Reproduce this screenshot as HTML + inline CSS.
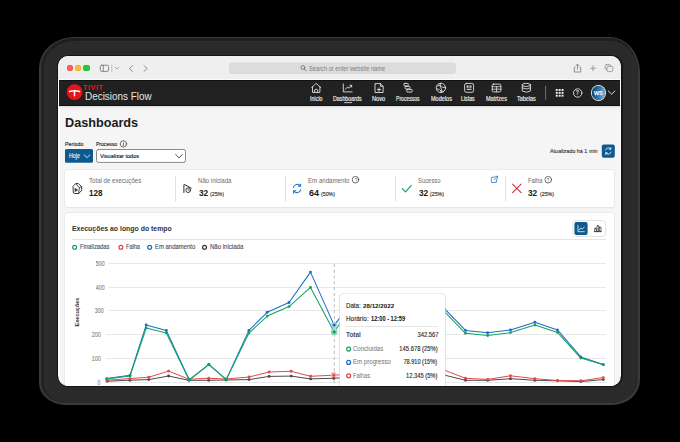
<!DOCTYPE html>
<html><head><meta charset="utf-8"><style>
html,body{margin:0;padding:0;width:680px;height:442px;overflow:hidden;background:#000;}
.a{position:absolute;}
.t{position:absolute;white-space:nowrap;font-family:"Liberation Sans", sans-serif;}
</style></head><body>
<div class="a" style="left:38.6px;top:36.8px;width:601.70px;height:368.20px;background:#3a3a3a;border-radius:36px 30px 28px 27px / 31px 36px 25px 22px;"></div>
<div class="a" style="left:40.5px;top:38.1px;width:597.70px;height:365.30px;background:#2a2a2a;border-radius:34px 28px 26px 25px / 29.5px 34px 23.5px 20.5px;"></div>
<div class="a" style="left:40.5px;top:38.1px;width:597.70px;height:365.30px;border-radius:34px 28px 26px 25px / 29.5px 34px 23.5px 20.5px;border-left:3px solid #222;border-top:3.3px solid #1f1f1f;box-sizing:border-box;"></div>
<div class="a" style="left:45.6px;top:42px;width:587.70px;height:356.60px;border-radius:29px 23px 21px 20px / 25px 29px 19px 16px;box-shadow:0 0 0 0.6px #2f2f2f;"></div>
<div class="a" style="left:49.6px;top:46px;width:579.70px;height:348.60px;border-radius:25px 19px 17px 16px / 21px 25px 15px 12px;box-shadow:0 0 0 0.6px #2e2e2e;"></div>
<div class="a" style="left:56.8px;top:54.8px;width:566.10px;height:332.20px;background:#151515;border-radius:12px;"></div>
<div class="a" style="left:58.4px;top:55.9px;width:562.6px;height:330.1px;border-radius:10.5px;overflow:hidden;background:#fdfdfd;"><div class="a" style="left:-58.4px;top:-55.9px;width:680px;height:442px;">
<div class="a" style="left:0px;top:0px;width:680.00px;height:78.50px;background:#efefef;"></div>
<div class="a" style="left:0px;top:78.5px;width:680.00px;height:1.50px;background:#fbfbfb;"></div>
<div class="a" style="left:66.9px;top:65.2px;width:6.20px;height:6.20px;background:#fe5f57;border-radius:50%;box-shadow:inset 0 0 0 0.4px #e2463f;"></div>
<div class="a" style="left:75.10000000000001px;top:65.2px;width:6.20px;height:6.20px;background:#febc2e;border-radius:50%;box-shadow:inset 0 0 0 0.4px #e1a116;"></div>
<div class="a" style="left:83.4px;top:65.2px;width:6.20px;height:6.20px;background:#28c840;border-radius:50%;box-shadow:inset 0 0 0 0.4px #14ae2a;"></div>
<svg class="a" style="left:0;top:0" width="680" height="80" viewBox="0 0 680 80" fill="none" stroke-linecap="round" stroke-linejoin="round">
<rect x="100.3" y="65.2" width="8.2" height="6.2" rx="1.3" stroke="#6f6f6f" stroke-width="0.8"/>
<line x1="103.3" y1="65.4" x2="103.3" y2="71.2" stroke="#6f6f6f" stroke-width="0.8"/>
<line x1="111.8" y1="65" x2="111.8" y2="72" stroke="#b0b0b0" stroke-width="0.8"/>
<path d="M115.3 67.4 L117 69 L118.7 67.4" stroke="#8a8a8a" stroke-width="0.7"/>
<path d="M132.6 65.6 L129.4 68.5 L132.6 71.4" stroke="#8a8a8a" stroke-width="0.9"/>
<path d="M144 65.6 L147.2 68.5 L144 71.4" stroke="#8a8a8a" stroke-width="0.9"/>
<rect x="229" y="62.6" width="227" height="11.4" rx="3" fill="#dcdcdc" stroke="none"/>
<circle cx="302.9" cy="67.6" r="1.9" stroke="#6a6a6a" stroke-width="0.8"/>
<line x1="304.3" y1="69" x2="306" y2="70.8" stroke="#6a6a6a" stroke-width="0.9"/>
<path d="M575 67.3 L574.3 67.3 L574.3 72 L580.7 72 L580.7 67.3 L580 67.3" stroke="#7a7a7a" stroke-width="0.8"/>
<line x1="577.5" y1="64.3" x2="577.5" y2="69.5" stroke="#7a7a7a" stroke-width="0.8"/>
<path d="M575.9 65.8 L577.5 64.2 L579.1 65.8" stroke="#7a7a7a" stroke-width="0.8"/>
<line x1="593" y1="65.8" x2="593" y2="70.8" stroke="#8a8a8a" stroke-width="0.8"/>
<line x1="590.5" y1="68.3" x2="595.5" y2="68.3" stroke="#8a8a8a" stroke-width="0.8"/>
<rect x="605.2" y="64.6" width="5.6" height="5" rx="1.2" stroke="#8a8a8a" stroke-width="0.75"/>
<rect x="607" y="66.4" width="5.8" height="5.2" rx="1.2" fill="#efefef" stroke="#8a8a8a" stroke-width="0.75"/>
</svg>
<div class="t" style="top:66.12px;font-size:6.8px;line-height:6.8px;font-weight:400;color:#7e7e7e;left:309.00px;transform:scaleX(0.8406);transform-origin:0 0;">Search or enter website name</div>
<div class="a" style="left:59.2px;top:80px;width:561.20px;height:26.00px;background:#212121;"></div>
<div class="a" style="left:59.2px;top:80px;width:561.20px;height:1.00px;background:#121212;"></div>
<div class="a" style="left:59.2px;top:104.8px;width:561.20px;height:1.20px;background:#0f0f0f;"></div>
<svg class="a" style="left:0;top:80px" width="680" height="26" viewBox="0 80 680 26" fill="none" stroke-linecap="round" stroke-linejoin="round">
<circle cx="74.55" cy="92.2" r="7.9" fill="#e8121d"/>
<path d="M69.6 91.5 Q74.5 90 79.5 91.5" stroke="#fff" stroke-width="1.6"/>
<line x1="74.5" y1="91" x2="74.5" y2="95.8" stroke="#fff" stroke-width="1.4"/>
</svg>
<div class="t" style="top:84.25px;font-size:7.7px;line-height:7.7px;font-weight:700;color:#e8141f;letter-spacing:0.6px;left:83.40px;transform:scaleX(0.9398);transform-origin:0 0;">TIVIT</div>
<div class="t" style="top:91.11px;font-size:11.4px;line-height:11.4px;font-weight:400;color:#e4e4e4;left:84.60px;transform:scaleX(0.8712);transform-origin:0 0;">Decisions Flow</div>
<svg class="a" style="left:0;top:80px" width="680" height="26" viewBox="0 80 680 26" fill="none" stroke="#ececec" stroke-width="0.85" stroke-linecap="round" stroke-linejoin="round">
<path d="M311.6 87.6 L316.2 83.4 L320.8 87.6 M312.5 86.9 L312.5 92.4 L319.9 92.4 L319.9 86.9"/>
<path d="M314.7 92.3 L314.7 89.9 Q316.2 88.3 317.7 89.9 L317.7 92.3"/>
<path d="M343.3 84 L343.3 91.9 L352.1 91.9"/>
<path d="M345.2 89.4 L347.6 86.9 L349.1 88.2 L351.5 85.6 M349.9 85.3 L351.7 85.3 L351.7 87.1"/>
<path d="M375.4 83.6 L380.4 83.6 L383.1 86.3 L383.1 92.5 L375.4 92.5 Z M380.4 83.6 L380.4 86.3 L383.1 86.3"/>
<path d="M377.3 89.6 L380.7 89.6 M379 87.9 L379 91.3"/>
<rect x="403.9" y="83.4" width="4.4" height="2.6" rx="0.9"/>
<rect x="405" y="86.4" width="5" height="2.6" rx="0.9"/>
<rect x="406.8" y="89.4" width="5.4" height="2.7" rx="0.9"/>
<circle cx="440.9" cy="87.9" r="4.7"/>
<path d="M437.8 85.8 Q440.2 84.4 441.6 86.4 Q442.6 88.2 444.6 87.4 M437 89 Q439.4 88.6 440 90.4 Q440.8 92 443.4 91.3 M440.4 83.5 Q439.3 85.5 440.9 87.9 Q442.2 89.8 441 92.2"/>
<rect x="464.6" y="83.4" width="9" height="8.9" rx="1.8"/>
<rect x="466.6" y="85.3" width="2" height="2.6" fill="#bdbdbd" stroke="none"/><rect x="469.5" y="85.3" width="2" height="2.6" fill="#bdbdbd" stroke="none"/><rect x="466.6" y="88.7" width="4.9" height="1.3" fill="#bdbdbd" stroke="none"/>
<rect x="492.2" y="84.1" width="8.7" height="7.8" rx="1.3"/>
<path d="M492.2 86.7 L500.9 86.7 M496.55 86.7 L496.55 91.9 M492.2 89.2 L500.9 89.2" stroke-width="0.75"/>
<ellipse cx="526.35" cy="84.9" rx="4.1" ry="1.6"/>
<path d="M522.25 84.9 L522.25 91 Q526.35 93.4 530.45 91 L530.45 84.9 M522.25 87.9 Q526.35 90.3 530.45 87.9"/>
<line x1="545.6" y1="86.2" x2="545.6" y2="99.4" stroke="#7a7a7a" stroke-width="0.9"/>
<path d="M608.3 91 L611.6 94.2 L614.9 91" stroke-width="0.9"/>
<circle cx="577.7" cy="93" r="4.2" stroke-width="0.85"/>
<rect x="344.2" y="102.2" width="7.8" height="0.9" fill="#d8d8d8" stroke="none"/>
</svg>
<div class="t" style="top:96.12px;font-size:6.8px;line-height:6.8px;font-weight:400;color:#ececec;left:309.80px;transform:scaleX(0.7713);transform-origin:0 0;-webkit-text-stroke:0.18px #ececec;">Início</div>
<div class="t" style="top:96.12px;font-size:6.8px;line-height:6.8px;font-weight:400;color:#ececec;left:333.00px;transform:scaleX(0.7785);transform-origin:0 0;-webkit-text-stroke:0.18px #ececec;">Dashboards</div>
<div class="t" style="top:96.12px;font-size:6.8px;line-height:6.8px;font-weight:400;color:#ececec;left:372.20px;transform:scaleX(0.8330);transform-origin:0 0;-webkit-text-stroke:0.18px #ececec;">Novo</div>
<div class="t" style="top:96.12px;font-size:6.8px;line-height:6.8px;font-weight:400;color:#ececec;left:395.60px;transform:scaleX(0.7454);transform-origin:0 0;-webkit-text-stroke:0.18px #ececec;">Processos</div>
<div class="t" style="top:96.12px;font-size:6.8px;line-height:6.8px;font-weight:400;color:#ececec;left:430.60px;transform:scaleX(0.8139);transform-origin:0 0;-webkit-text-stroke:0.18px #ececec;">Modelos</div>
<div class="t" style="top:96.12px;font-size:6.8px;line-height:6.8px;font-weight:400;color:#ececec;left:461.40px;transform:scaleX(0.7735);transform-origin:0 0;-webkit-text-stroke:0.18px #ececec;">Listas</div>
<div class="t" style="top:96.12px;font-size:6.8px;line-height:6.8px;font-weight:400;color:#ececec;left:485.80px;transform:scaleX(0.8142);transform-origin:0 0;-webkit-text-stroke:0.18px #ececec;">Matrizes</div>
<div class="t" style="top:96.12px;font-size:6.8px;line-height:6.8px;font-weight:400;color:#ececec;left:517.20px;transform:scaleX(0.7990);transform-origin:0 0;-webkit-text-stroke:0.18px #ececec;">Tabelas</div>
<svg class="a" style="left:0;top:0" width="680" height="110" viewBox="0 0 680 110"><rect x="555.80" y="89.00" width="1.9" height="1.9" fill="#f4f4f4"/><rect x="555.80" y="91.90" width="1.9" height="1.9" fill="#f4f4f4"/><rect x="555.80" y="94.80" width="1.9" height="1.9" fill="#f4f4f4"/><rect x="558.70" y="89.00" width="1.9" height="1.9" fill="#f4f4f4"/><rect x="558.70" y="91.90" width="1.9" height="1.9" fill="#f4f4f4"/><rect x="558.70" y="94.80" width="1.9" height="1.9" fill="#f4f4f4"/><rect x="561.60" y="89.00" width="1.9" height="1.9" fill="#f4f4f4"/><rect x="561.60" y="91.90" width="1.9" height="1.9" fill="#f4f4f4"/><rect x="561.60" y="94.80" width="1.9" height="1.9" fill="#f4f4f4"/></svg>
<div class="t" style="top:89.86px;font-size:6.4px;line-height:6.4px;font-weight:400;color:#f4f4f4;left:575.70px;transform:scaleX(0.7500);transform-origin:0 0;-webkit-text-stroke:0.2px #f4f4f4;">?</div>
<div class="a" style="left:591.6px;top:86.3px;width:13.40px;height:13.40px;border-radius:50%;background:linear-gradient(100deg, #0a3a6a 0%, #1b5f9a 30%, #3f86bd 65%, #8fc3e3 100%);box-shadow:0 0 0 0.9px #eeeeee;"></div>
<div class="t" style="top:90.13px;font-size:6.2px;line-height:6.2px;font-weight:400;color:#ffffff;left:593.90px;transform:scaleX(0.8740);transform-origin:0 0;-webkit-text-stroke:0.25px #fff;">WS</div>
<div class="a" style="left:60.2px;top:106px;width:559.40px;height:336.00px;background:#f5f5f5;"></div>
<div class="a" style="left:59.2px;top:106px;width:561.20px;height:3.00px;background:linear-gradient(#dedede,#f5f5f5);"></div>
<div class="t" style="top:115.64px;font-size:13.6px;line-height:13.6px;font-weight:700;color:#1b1b1b;left:64.60px;transform:scaleX(0.9307);transform-origin:0 0;">Dashboards</div>
<div class="t" style="top:141.23px;font-size:6.2px;line-height:6.2px;font-weight:400;color:#262626;left:64.80px;transform:scaleX(0.8457);transform-origin:0 0;-webkit-text-stroke:0.15px #262626;">Período</div>
<div class="t" style="top:141.23px;font-size:6.2px;line-height:6.2px;font-weight:400;color:#262626;left:96.00px;transform:scaleX(0.8159);transform-origin:0 0;-webkit-text-stroke:0.15px #262626;">Processo</div>
<svg class="a" style="left:0;top:0" width="680" height="170" viewBox="0 0 680 170" fill="none" stroke-linecap="round" stroke-linejoin="round">
<circle cx="123.4" cy="143.9" r="3.2" stroke="#333" stroke-width="0.7"/>
<line x1="123.4" y1="143.3" x2="123.4" y2="145.6" stroke="#333" stroke-width="0.7"/>
<circle cx="123.4" cy="142.2" r="0.4" fill="#333"/>
<rect x="65" y="149" width="28" height="13.8" rx="1.6" fill="#0e5a8e"/>
<path d="M84.2 154.9 L87 157.6 L89.8 154.9" stroke="#fff" stroke-width="0.8"/>
<rect x="96.5" y="149.5" width="89" height="12.9" rx="2" fill="#fff" stroke="#767676" stroke-width="0.85"/>
<path d="M175.6 154.5 L179 157.8 L182.4 154.5" stroke="#333" stroke-width="0.85"/>
<rect x="601.8" y="144.4" width="13" height="13.3" rx="2" fill="#0e5a8e"/>
<path d="M605.6 150 A2.9 2.9 0 0 1 610.8 149.1 M611 152.1 A2.9 2.9 0 0 1 605.8 153" stroke="#fff" stroke-width="0.8"/>
<path d="M610.9 147.6 L610.9 149.3 L609.3 149.3 M605.7 154.5 L605.7 152.8 L607.3 152.8" stroke="#fff" stroke-width="0.8"/>
</svg>
<div class="t" style="top:152.97px;font-size:6.5px;line-height:6.5px;font-weight:400;color:#ffffff;left:69.20px;transform:scaleX(0.8144);transform-origin:0 0;-webkit-text-stroke:0.1px #fff;">Hoje</div>
<div class="t" style="top:152.72px;font-size:6.1px;line-height:6.1px;font-weight:400;color:#1a1a1a;left:100.20px;transform:scaleX(0.9100);transform-origin:0 0;-webkit-text-stroke:0.15px #1a1a1a;">Visualizar todos</div>
<div class="t" style="top:148.67px;font-size:5.8px;line-height:5.8px;font-weight:400;color:#333;left:550.40px;transform:scaleX(0.9351);transform-origin:0 0;-webkit-text-stroke:0.12px #333;">Atualizado há 1 min</div>
<div class="a" style="left:65.3px;top:169.6px;width:548.70px;height:37.60px;background:#fff;border-radius:2.5px;box-shadow:0 0 0 0.6px #e4e4e4, 0 0.5px 1.5px rgba(0,0,0,0.06);"></div>
<div class="a" style="left:175.29999999999998px;top:175.5px;width:0.70px;height:26.50px;background:#e2e2e2;"></div>
<div class="a" style="left:285.3px;top:175.5px;width:0.70px;height:26.50px;background:#e2e2e2;"></div>
<div class="a" style="left:395.3px;top:175.5px;width:0.70px;height:26.50px;background:#e2e2e2;"></div>
<div class="a" style="left:505.0px;top:175.5px;width:0.70px;height:26.50px;background:#e2e2e2;"></div>
<svg class="a" style="left:0;top:160px" width="680" height="50" viewBox="0 160 680 50" fill="none" stroke-linecap="round" stroke-linejoin="round">
<path d="M73.3 186.1 L75.8 183.6 L78.4 183.6 L81.7 186.7 L81.7 190.4 L78.7 193.5 L74.4 193.5 Q73.3 193.5 73.3 192.4 Z" stroke="#222" stroke-width="0.9"/>
<path d="M75.8 183.6 L79.3 187.7 L81.7 186.7 M79.3 187.7 L78.7 193.5" stroke="#222" stroke-width="0.8"/>
<path d="M75.1 188.2 L77.7 189.9 L75.1 191.6 Z" fill="#222" stroke="#222" stroke-width="0.4"/>
<path d="M183.9 192.5 L183.9 185 Q183.9 184.2 184.7 184.6 L191.3 188.2" stroke="#222" stroke-width="0.95"/>
<circle cx="188.2" cy="190.2" r="2.35" stroke="#222" stroke-width="0.9"/>
<path d="M188.2 189.1 L188.2 190.3 L189.2 190.3" stroke="#222" stroke-width="0.6"/>
<path d="M293.4 187.4 A4 4 0 0 1 300.3 185.8 M300.8 189.6 A4 4 0 0 1 293.9 191.2" stroke="#1e74c9" stroke-width="1.05"/>
<path d="M300.6 183.9 L300.6 186.2 L298.3 186.2 M293.6 193.1 L293.6 190.8 L295.9 190.8" stroke="#1e74c9" stroke-width="1.05"/>
<path d="M402.3 188.6 L405.5 191.8 L411.3 185.4" stroke="#189a5c" stroke-width="1.1"/>
<path d="M512.6 184.1 L521.1 192.6 M521.1 184.1 L512.6 192.6" stroke="#d9272e" stroke-width="1.05"/>
<path d="M494.6 177.2 L491.9 177.2 Q491.3 177.2 491.3 177.8 L491.3 181.9 Q491.3 182.5 491.9 182.5 L496 182.5 Q496.6 182.5 496.6 181.9 L496.6 179.3" stroke="#2a7fd4" stroke-width="0.85"/>
<path d="M494.1 179.7 L497.5 176.3 M495.4 176.3 L497.5 176.3 L497.5 178.4" stroke="#2a7fd4" stroke-width="0.85"/>
<circle cx="355.5" cy="179.7" r="3.3" stroke="#333" stroke-width="0.7"/>
<circle cx="548.3" cy="179.7" r="3.3" stroke="#333" stroke-width="0.7"/>
</svg>
<div class="t" style="top:178.35px;font-size:5.0px;line-height:5.0px;font-weight:400;color:#333;left:354.80px;transform:scaleX(0.8000);transform-origin:0 0;">?</div>
<div class="t" style="top:178.35px;font-size:5.0px;line-height:5.0px;font-weight:400;color:#333;left:547.00px;transform:scaleX(0.8000);transform-origin:0 0;">?</div>
<div class="t" style="top:177.35px;font-size:7.0px;line-height:7.0px;font-weight:400;color:#6b6b6b;left:89.40px;transform:scaleX(0.8721);transform-origin:0 0;">Total de execuções</div>
<div class="t" style="top:188.50px;font-size:8.7px;line-height:8.7px;font-weight:700;color:#1a1a1a;left:88.60px;transform:scaleX(0.9343);transform-origin:0 0;">128</div>
<div class="t" style="top:177.35px;font-size:7.0px;line-height:7.0px;font-weight:400;color:#6b6b6b;left:198.40px;transform:scaleX(0.8672);transform-origin:0 0;">Não iniciada</div>
<div class="t" style="top:188.50px;font-size:8.7px;line-height:8.7px;font-weight:700;color:#1a1a1a;left:198.60px;transform:scaleX(0.9561);transform-origin:0 0;">32</div>
<div class="t" style="top:192.31px;font-size:5.4px;line-height:5.4px;font-weight:400;color:#262626;left:209.80px;transform:scaleX(0.9668);transform-origin:0 0;-webkit-text-stroke:0.12px #262626;">(25%)</div>
<div class="t" style="top:177.35px;font-size:7.0px;line-height:7.0px;font-weight:400;color:#6b6b6b;left:308.40px;transform:scaleX(0.8743);transform-origin:0 0;">Em andamento</div>
<div class="t" style="top:188.50px;font-size:8.7px;line-height:8.7px;font-weight:700;color:#1a1a1a;left:308.60px;transform:scaleX(1.0375);transform-origin:0 0;">64</div>
<div class="t" style="top:192.31px;font-size:5.4px;line-height:5.4px;font-weight:400;color:#262626;left:321.00px;transform:scaleX(0.9668);transform-origin:0 0;-webkit-text-stroke:0.12px #262626;">(50%)</div>
<div class="t" style="top:177.35px;font-size:7.0px;line-height:7.0px;font-weight:400;color:#6b6b6b;left:418.40px;transform:scaleX(0.8384);transform-origin:0 0;">Sucesso</div>
<div class="t" style="top:188.50px;font-size:8.7px;line-height:8.7px;font-weight:700;color:#1a1a1a;left:418.60px;transform:scaleX(0.9561);transform-origin:0 0;">32</div>
<div class="t" style="top:192.31px;font-size:5.4px;line-height:5.4px;font-weight:400;color:#262626;left:429.80px;transform:scaleX(0.9668);transform-origin:0 0;-webkit-text-stroke:0.12px #262626;">(25%)</div>
<div class="t" style="top:177.35px;font-size:7.0px;line-height:7.0px;font-weight:400;color:#6b6b6b;left:528.20px;transform:scaleX(0.8344);transform-origin:0 0;">Falha</div>
<div class="t" style="top:188.50px;font-size:8.7px;line-height:8.7px;font-weight:700;color:#1a1a1a;left:528.40px;transform:scaleX(0.9561);transform-origin:0 0;">32</div>
<div class="t" style="top:192.31px;font-size:5.4px;line-height:5.4px;font-weight:400;color:#262626;left:540.20px;transform:scaleX(0.9668);transform-origin:0 0;-webkit-text-stroke:0.12px #262626;">(25%)</div>
<div class="a" style="left:65.3px;top:213.3px;width:548.70px;height:246.70px;background:#fff;border-radius:2.5px;box-shadow:0 0 0 0.6px #e4e4e4, 0 0.5px 1.5px rgba(0,0,0,0.06);"></div>
<div class="t" style="top:225.46px;font-size:7.7px;line-height:7.7px;font-weight:700;color:#333;left:71.60px;transform:scaleX(0.8980);transform-origin:0 0;">Execuções ao longo do tempo</div>
<div class="a" style="left:72px;top:239.1px;width:533.70px;height:0.70px;background:#e3e3e3;"></div>
<svg class="a" style="left:0;top:215px" width="680" height="30" viewBox="0 215 680 30" fill="none" stroke-linecap="round" stroke-linejoin="round">
<rect x="572.8" y="220.6" width="32.8" height="15.9" rx="2.6" fill="#fff" stroke="#d9d9d9" stroke-width="0.7"/>
<rect x="574.4" y="221.9" width="13.2" height="13" rx="2" fill="#0e5a8e"/>
<path d="M578 225.3 L578 231.7 L584.4 231.7" stroke="#fff" stroke-width="0.75"/>
<path d="M579.2 230 L580.9 227.9 L582.3 229.2 L584.2 227" stroke="#fff" stroke-width="0.75"/>
<path d="M594.3 231.6 L601.4 231.6" stroke="#222" stroke-width="0.7"/>
<rect x="594.7" y="228.3" width="1.7" height="3.3" rx="0.5" stroke="#222" stroke-width="0.7"/>
<rect x="597" y="225.6" width="1.7" height="6" rx="0.5" stroke="#222" stroke-width="0.7"/>
<rect x="599.3" y="227.2" width="1.7" height="4.4" rx="0.5" stroke="#222" stroke-width="0.7"/>
</svg>
<svg class="a" style="left:0;top:240px" width="680" height="15" viewBox="0 240 680 15"><circle cx="74.65" cy="247.3" r="1.95" stroke="#14a05e" stroke-width="1.2" fill="none"/><circle cx="120.9" cy="247.3" r="1.95" stroke="#e0393e" stroke-width="1.2" fill="none"/><circle cx="149.7" cy="247.3" r="1.95" stroke="#1c64c4" stroke-width="1.2" fill="none"/><circle cx="204.5" cy="247.3" r="1.95" stroke="#333" stroke-width="1.2" fill="none"/></svg>
<div class="t" style="top:243.88px;font-size:6.5px;line-height:6.5px;font-weight:400;color:#435069;left:79.60px;transform:scaleX(0.8981);transform-origin:0 0;-webkit-text-stroke:0.12px #435069;">Finalizadas</div>
<div class="t" style="top:243.88px;font-size:6.5px;line-height:6.5px;font-weight:400;color:#435069;left:126.20px;transform:scaleX(0.8591);transform-origin:0 0;-webkit-text-stroke:0.12px #435069;">Falha</div>
<div class="t" style="top:243.88px;font-size:6.5px;line-height:6.5px;font-weight:400;color:#435069;left:154.80px;transform:scaleX(0.9131);transform-origin:0 0;-webkit-text-stroke:0.12px #435069;">Em andamento</div>
<div class="t" style="top:243.88px;font-size:6.5px;line-height:6.5px;font-weight:400;color:#435069;left:209.60px;transform:scaleX(0.9293);transform-origin:0 0;-webkit-text-stroke:0.12px #435069;">Não iniciada</div>
<div class="a" style="left:109.2px;top:263.1px;width:496.50px;height:0.80px;background:#e8e8e8;"></div>
<div class="t" style="top:261.36px;font-size:6.4px;line-height:6.4px;font-weight:400;color:#666;right:575.17px;transform:scaleX(0.8282);transform-origin:100% 0;">500</div>
<div class="a" style="left:109.2px;top:287.0px;width:496.50px;height:0.80px;background:#e8e8e8;"></div>
<div class="t" style="top:285.26px;font-size:6.4px;line-height:6.4px;font-weight:400;color:#666;right:575.17px;transform:scaleX(0.8282);transform-origin:100% 0;">400</div>
<div class="a" style="left:108.9px;top:310.40000000000003px;width:496.80px;height:0.80px;background:#e8e8e8;"></div>
<div class="t" style="top:307.66px;font-size:6.4px;line-height:6.4px;font-weight:400;color:#666;right:576.17px;transform:scaleX(0.8282);transform-origin:100% 0;">300</div>
<div class="a" style="left:106px;top:334.20000000000005px;width:499.70px;height:0.80px;background:#e8e8e8;"></div>
<div class="t" style="top:332.46px;font-size:6.4px;line-height:6.4px;font-weight:400;color:#666;right:578.97px;transform:scaleX(0.8282);transform-origin:100% 0;">200</div>
<div class="a" style="left:106.1px;top:358.1px;width:499.60px;height:0.80px;background:#e8e8e8;"></div>
<div class="t" style="top:356.36px;font-size:6.4px;line-height:6.4px;font-weight:400;color:#666;right:578.97px;transform:scaleX(0.8282);transform-origin:100% 0;">100</div>
<div class="a" style="left:106px;top:382.1px;width:499.70px;height:0.80px;background:#e8e8e8;"></div>
<div class="t" style="top:380.36px;font-size:6.4px;line-height:6.4px;font-weight:400;color:#666;right:578.97px;transform:scaleX(0.8250);transform-origin:100% 0;">0</div>
<div class="a" style="left:46.8px;font-family:&quot;Liberation Sans&quot;,sans-serif;white-space:nowrap;top:308.6px;width:60px;height:6px;line-height:6px;font-size:5.5px;font-weight:700;color:#333;text-align:center;transform:rotate(-90deg);transform-origin:30px 3px;">Execuções</div>
<svg class="a" style="left:0;top:250px" width="680" height="140" viewBox="0 250 680 140"><line x1="334.3" y1="263.8" x2="334.3" y2="386" stroke="#a9a9a9" stroke-width="0.8" stroke-dasharray="3.2 2.6"/><polyline points="107.2,381.2 129.9,380.2 148.8,379.6 168.6,376 188.9,380.3 208.7,380.3 226,380 249.1,379.6 269.1,376.4 291.2,376.1 310.6,378.9 333.8,378.2 356,377 378,376 400,376 422,375.5 444,375 465.5,380.3 487.7,380.3 510.5,378.7 534.9,380.3 557.5,380.8 580.8,381.6 603.3,379.6" fill="none" stroke="#4a4a4a" stroke-width="1.0" stroke-linejoin="round"/><circle cx="107.2" cy="381.2" r="1.45" fill="#4a4a4a"/><circle cx="129.9" cy="380.2" r="1.45" fill="#4a4a4a"/><circle cx="148.8" cy="379.6" r="1.45" fill="#4a4a4a"/><circle cx="168.6" cy="376" r="1.45" fill="#4a4a4a"/><circle cx="188.9" cy="380.3" r="1.45" fill="#4a4a4a"/><circle cx="208.7" cy="380.3" r="1.45" fill="#4a4a4a"/><circle cx="226" cy="380" r="1.45" fill="#4a4a4a"/><circle cx="249.1" cy="379.6" r="1.45" fill="#4a4a4a"/><circle cx="269.1" cy="376.4" r="1.45" fill="#4a4a4a"/><circle cx="291.2" cy="376.1" r="1.45" fill="#4a4a4a"/><circle cx="310.6" cy="378.9" r="1.45" fill="#4a4a4a"/><circle cx="333.8" cy="378.2" r="1.45" fill="#4a4a4a"/><circle cx="356" cy="377" r="1.45" fill="#4a4a4a"/><circle cx="378" cy="376" r="1.45" fill="#4a4a4a"/><circle cx="400" cy="376" r="1.45" fill="#4a4a4a"/><circle cx="422" cy="375.5" r="1.45" fill="#4a4a4a"/><circle cx="444" cy="375" r="1.45" fill="#4a4a4a"/><circle cx="465.5" cy="380.3" r="1.45" fill="#4a4a4a"/><circle cx="487.7" cy="380.3" r="1.45" fill="#4a4a4a"/><circle cx="510.5" cy="378.7" r="1.45" fill="#4a4a4a"/><circle cx="534.9" cy="380.3" r="1.45" fill="#4a4a4a"/><circle cx="557.5" cy="380.8" r="1.45" fill="#4a4a4a"/><circle cx="580.8" cy="381.6" r="1.45" fill="#4a4a4a"/><circle cx="603.3" cy="379.6" r="1.45" fill="#4a4a4a"/><polyline points="107.2,380.2 129.9,378.6 148.8,377.2 168.6,371.1 188.9,379.2 208.7,378.3 226,379 249.1,377 269.1,372 291.2,371.3 310.6,376.3 333.8,375.2 356,374 378,373 400,372 422,371 444,370 465.5,378.3 487.7,379.4 510.5,375.8 534.9,378.7 557.5,380.5 580.8,380.8 603.3,377.6" fill="none" stroke="#e3484c" stroke-width="1.0" stroke-linejoin="round"/><circle cx="107.2" cy="380.2" r="1.45" fill="#e3484c"/><circle cx="129.9" cy="378.6" r="1.45" fill="#e3484c"/><circle cx="148.8" cy="377.2" r="1.45" fill="#e3484c"/><circle cx="168.6" cy="371.1" r="1.45" fill="#e3484c"/><circle cx="188.9" cy="379.2" r="1.45" fill="#e3484c"/><circle cx="208.7" cy="378.3" r="1.45" fill="#e3484c"/><circle cx="226" cy="379" r="1.45" fill="#e3484c"/><circle cx="249.1" cy="377" r="1.45" fill="#e3484c"/><circle cx="269.1" cy="372" r="1.45" fill="#e3484c"/><circle cx="291.2" cy="371.3" r="1.45" fill="#e3484c"/><circle cx="310.6" cy="376.3" r="1.45" fill="#e3484c"/><circle cx="333.8" cy="375.2" r="1.45" fill="#e3484c"/><circle cx="356" cy="374" r="1.45" fill="#e3484c"/><circle cx="378" cy="373" r="1.45" fill="#e3484c"/><circle cx="400" cy="372" r="1.45" fill="#e3484c"/><circle cx="422" cy="371" r="1.45" fill="#e3484c"/><circle cx="444" cy="370" r="1.45" fill="#e3484c"/><circle cx="465.5" cy="378.3" r="1.45" fill="#e3484c"/><circle cx="487.7" cy="379.4" r="1.45" fill="#e3484c"/><circle cx="510.5" cy="375.8" r="1.45" fill="#e3484c"/><circle cx="534.9" cy="378.7" r="1.45" fill="#e3484c"/><circle cx="557.5" cy="380.5" r="1.45" fill="#e3484c"/><circle cx="580.8" cy="380.8" r="1.45" fill="#e3484c"/><circle cx="603.3" cy="377.6" r="1.45" fill="#e3484c"/><polyline points="106.8,378.6 130,375.3 146.2,324.9 166.3,330.4 189.2,379.8 208.9,364.4 226.2,379.6 248.9,330.4 267.2,312.3 289,302.5 310.5,272.1 334.1,325.1 356,298 378,300 400,300 422,300 444,308.2 465.5,330.4 487.7,332.8 510.5,329.9 534.9,322.2 557.5,329.9 580.8,356.9 603.3,364.6" fill="none" stroke="#1c6cc8" stroke-width="1.05" stroke-linejoin="round"/><circle cx="106.8" cy="378.6" r="1.45" fill="#1c6cc8"/><circle cx="130" cy="375.3" r="1.45" fill="#1c6cc8"/><circle cx="146.2" cy="324.9" r="1.45" fill="#1c6cc8"/><circle cx="166.3" cy="330.4" r="1.45" fill="#1c6cc8"/><circle cx="189.2" cy="379.8" r="1.45" fill="#1c6cc8"/><circle cx="208.9" cy="364.4" r="1.45" fill="#1c6cc8"/><circle cx="226.2" cy="379.6" r="1.45" fill="#1c6cc8"/><circle cx="248.9" cy="330.4" r="1.45" fill="#1c6cc8"/><circle cx="267.2" cy="312.3" r="1.45" fill="#1c6cc8"/><circle cx="289" cy="302.5" r="1.45" fill="#1c6cc8"/><circle cx="310.5" cy="272.1" r="1.45" fill="#1c6cc8"/><circle cx="334.1" cy="325.1" r="1.45" fill="#1c6cc8"/><circle cx="356" cy="298" r="1.45" fill="#1c6cc8"/><circle cx="378" cy="300" r="1.45" fill="#1c6cc8"/><circle cx="400" cy="300" r="1.45" fill="#1c6cc8"/><circle cx="422" cy="300" r="1.45" fill="#1c6cc8"/><circle cx="444" cy="308.2" r="1.45" fill="#1c6cc8"/><circle cx="465.5" cy="330.4" r="1.45" fill="#1c6cc8"/><circle cx="487.7" cy="332.8" r="1.45" fill="#1c6cc8"/><circle cx="510.5" cy="329.9" r="1.45" fill="#1c6cc8"/><circle cx="534.9" cy="322.2" r="1.45" fill="#1c6cc8"/><circle cx="557.5" cy="329.9" r="1.45" fill="#1c6cc8"/><circle cx="580.8" cy="356.9" r="1.45" fill="#1c6cc8"/><circle cx="603.3" cy="364.6" r="1.45" fill="#1c6cc8"/><polyline points="106.8,379.1 130,376.1 146.2,328.0 166.3,333.0 189.2,380.0 208.9,364.6 226.2,379.7 248.9,333.1 267.2,316.1 289,306.6 310.5,287.4 334.1,331.8 356,301 378,303 400,303 422,303 444,311.2 465.5,333.3 487.7,335.5 510.5,332.6 534.9,325.0 557.5,332.4 580.8,358.1 603.3,364.7" fill="none" stroke="#12a363" stroke-width="1.05" stroke-linejoin="round"/><circle cx="106.8" cy="379.1" r="1.45" fill="#12a363"/><circle cx="130" cy="376.1" r="1.45" fill="#12a363"/><circle cx="146.2" cy="328.0" r="1.45" fill="#12a363"/><circle cx="166.3" cy="333.0" r="1.45" fill="#12a363"/><circle cx="189.2" cy="380.0" r="1.45" fill="#12a363"/><circle cx="208.9" cy="364.6" r="1.45" fill="#12a363"/><circle cx="226.2" cy="379.7" r="1.45" fill="#12a363"/><circle cx="248.9" cy="333.1" r="1.45" fill="#12a363"/><circle cx="267.2" cy="316.1" r="1.45" fill="#12a363"/><circle cx="289" cy="306.6" r="1.45" fill="#12a363"/><circle cx="310.5" cy="287.4" r="1.45" fill="#12a363"/><circle cx="334.1" cy="331.8" r="1.45" fill="#12a363"/><circle cx="356" cy="301" r="1.45" fill="#12a363"/><circle cx="378" cy="303" r="1.45" fill="#12a363"/><circle cx="400" cy="303" r="1.45" fill="#12a363"/><circle cx="422" cy="303" r="1.45" fill="#12a363"/><circle cx="444" cy="311.2" r="1.45" fill="#12a363"/><circle cx="465.5" cy="333.3" r="1.45" fill="#12a363"/><circle cx="487.7" cy="335.5" r="1.45" fill="#12a363"/><circle cx="510.5" cy="332.6" r="1.45" fill="#12a363"/><circle cx="534.9" cy="325.0" r="1.45" fill="#12a363"/><circle cx="557.5" cy="332.4" r="1.45" fill="#12a363"/><circle cx="580.8" cy="358.1" r="1.45" fill="#12a363"/><circle cx="603.3" cy="364.7" r="1.45" fill="#12a363"/><circle cx="334.15" cy="325.1" r="2.9" fill="#a6c6ee"/><circle cx="334.15" cy="325.1" r="1.45" fill="#1565c0"/><circle cx="334.15" cy="331.9" r="3.4" fill="#8fdbb6"/><circle cx="334.15" cy="331.9" r="1.5" fill="#0e9a58"/><circle cx="333.8" cy="375.2" r="3.1" fill="#f4b3b3"/><circle cx="333.8" cy="375.2" r="1.45" fill="#e3484c"/><circle cx="333.8" cy="378.2" r="1.3" fill="#4a4a4a"/></svg>
<div class="a" style="left:339.6px;top:293.8px;width:105.60px;height:126.20px;background:#fff;border-radius:3.5px;box-shadow:0 0 0 0.6px #dcdcdc, 0 1px 3px rgba(0,0,0,0.10);"></div>
<div class="t" style="top:303.06px;font-size:6.4px;line-height:6.4px;font-weight:400;color:#262626;left:345.80px;transform:scaleX(0.9614);transform-origin:0 0;-webkit-text-stroke:0.12px #262626;">Data:</div>
<div class="t" style="top:303.23px;font-size:6.2px;line-height:6.2px;font-weight:700;color:#111;left:362.60px;transform:scaleX(1.0055);transform-origin:0 0;">28/12/2022</div>
<div class="t" style="top:316.00px;font-size:6.7px;line-height:6.7px;font-weight:400;color:#262626;left:345.80px;transform:scaleX(0.9529);transform-origin:0 0;-webkit-text-stroke:0.12px #262626;">Horário:</div>
<div class="t" style="top:316.00px;font-size:6.7px;line-height:6.7px;font-weight:700;color:#111;left:370.80px;transform:scaleX(0.8508);transform-origin:0 0;">12:00 - 12:59</div>
<div class="a" style="left:346.2px;top:326.1px;width:91.90px;height:0.70px;background:#e6e6e6;"></div>
<div class="t" style="top:332.42px;font-size:6.8px;line-height:6.8px;font-weight:700;color:#4a4a4a;left:345.80px;transform:scaleX(0.9405);transform-origin:0 0;">Total</div>
<div class="t" style="top:331.68px;font-size:6.5px;line-height:6.5px;font-weight:400;color:#262626;right:241.95px;transform:scaleX(0.8961);transform-origin:100% 0;-webkit-text-stroke:0.12px #262626;">342.567</div>
<svg class="a" style="left:0;top:330px" width="680" height="60" viewBox="0 330 680 60"><circle cx="348.65" cy="349.1" r="1.95" stroke="#14a05e" stroke-width="1.2" fill="none"/><circle cx="348.65" cy="362.4" r="1.95" stroke="#1c64c4" stroke-width="1.2" fill="none"/><circle cx="348.65" cy="375.8" r="1.95" stroke="#e0393e" stroke-width="1.2" fill="none"/></svg>
<div class="t" style="top:345.05px;font-size:7.0px;line-height:7.0px;font-weight:400;color:#707070;left:353.40px;transform:scaleX(0.8615);transform-origin:0 0;">Concluídas</div>
<div class="t" style="top:346.48px;font-size:6.5px;line-height:6.5px;font-weight:400;color:#262626;right:242.65px;transform:scaleX(0.8993);transform-origin:100% 0;-webkit-text-stroke:0.12px #262626;">145.678 (25%)</div>
<div class="t" style="top:358.35px;font-size:7.0px;line-height:7.0px;font-weight:400;color:#707070;left:353.40px;transform:scaleX(0.8700);transform-origin:0 0;">Em progresso</div>
<div class="t" style="top:358.78px;font-size:6.5px;line-height:6.5px;font-weight:400;color:#262626;right:242.66px;transform:scaleX(0.8621);transform-origin:100% 0;-webkit-text-stroke:0.12px #262626;">78.910 (15%)</div>
<div class="t" style="top:372.05px;font-size:7.0px;line-height:7.0px;font-weight:400;color:#707070;left:353.40px;transform:scaleX(0.8089);transform-origin:0 0;">Falhas</div>
<div class="t" style="top:373.48px;font-size:6.5px;line-height:6.5px;font-weight:400;color:#262626;right:242.65px;transform:scaleX(0.8880);transform-origin:100% 0;-webkit-text-stroke:0.12px #262626;">12.345 (5%)</div>
</div></div>
</body></html>
